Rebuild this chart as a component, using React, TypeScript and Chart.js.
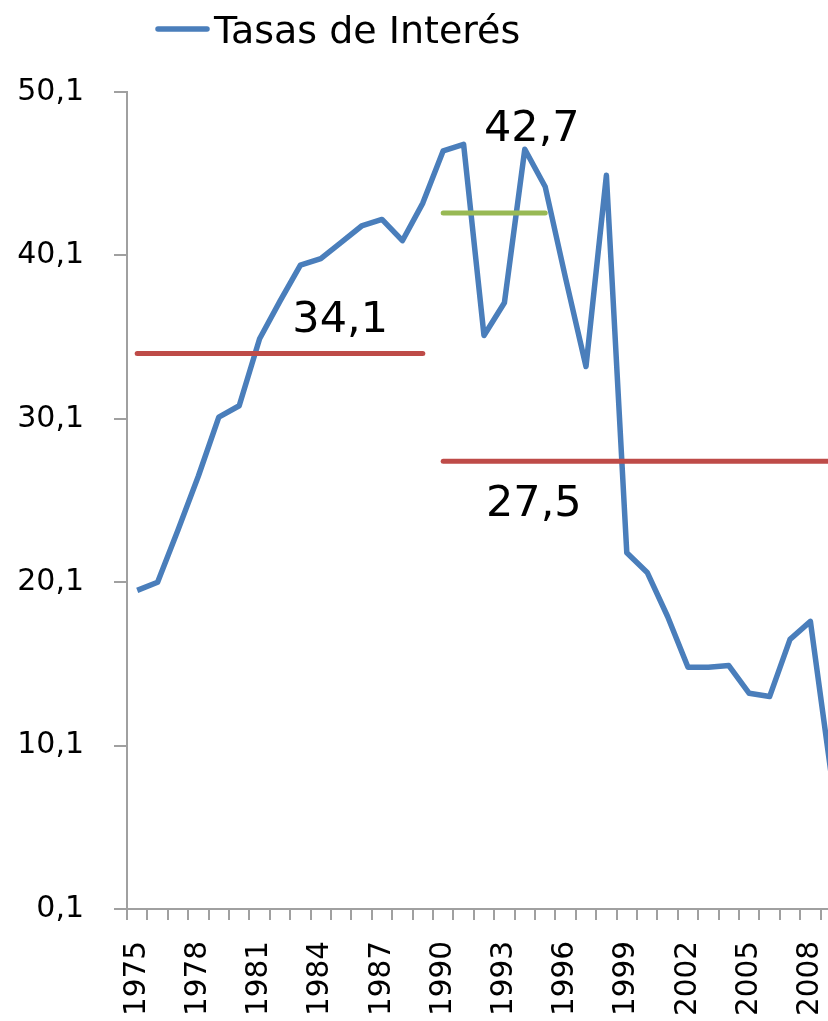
import { useEffect, useRef } from 'react';
import { Chart, registerables } from 'chart.js';

Chart.register(...registerables);

// Years on the category axis
const years = [
  '1975', '1976', '1977', '1978', '1979', '1980', '1981', '1982', '1983', '1984',
  '1985', '1986', '1987', '1988', '1989', '1990', '1991', '1992', '1993', '1994',
  '1995', '1996', '1997', '1998', '1999', '2000', '2001', '2002', '2003', '2004',
  '2005', '2006', '2007', '2008', '2009',
];

// Annual interest rate (%)
const interestRates = [
  19.6, 20.1, 23.3, 26.6, 30.2, 30.9, 35.0, 37.3, 39.5, 39.9,
  40.9, 41.9, 42.3, 41.0, 43.3, 46.5, 46.9, 35.2, 37.2, 46.6,
  44.3, 38.7, 33.3, 45.0, 21.9, 20.7, 18.0, 14.9, 14.9, 15.0,
  13.3, 13.1, 16.6, 17.7, 8.5,
];

// Period averages
const periodStarts = ['1975', '1990', '1990'];
const periodEnds = ['1989', '1995', '2009'];
const periodMeans = [34.1, 42.7, 27.5];

// Value axis
const yMin = 0.1;
const yMax = 50.1;
const yStep = 10;

const seriesLabel = 'Tasas de Interés';

const BLUE = '#4A7EBB';
const RED = '#BE4B48';
const GREEN = '#98B954';
const AXIS_GREY = '#A0A0A0';
const FONT = 'DejaVu Sans';

const periodColors = [RED, GREEN, RED];

const fmt = (v: number) => v.toFixed(1).replace('.', ',');

const periodSeries = (i: number) =>
  years.map((y) => (y >= periodStarts[i] && y <= periodEnds[i] ? periodMeans[i] : null));

// Draws the single-entry legend at the top-left
const legendPlugin = {
  id: 'topLegend',
  afterDraw(chart: Chart) {
    const { ctx } = chart;
    ctx.save();
    ctx.strokeStyle = BLUE;
    ctx.lineWidth = 5.5;
    ctx.lineCap = 'round';
    ctx.beginPath();
    ctx.moveTo(158, 29);
    ctx.lineTo(207, 29);
    ctx.stroke();
    ctx.fillStyle = '#000';
    ctx.font = `38px "${FONT}"`;
    ctx.textAlign = 'left';
    ctx.textBaseline = 'alphabetic';
    ctx.fillText(String(chart.data.datasets[0].label), 214, 43);
    ctx.restore();
  },
};

// Writes each period average next to its line
const meanLabelPlugin = {
  id: 'meanLabels',
  afterDatasetsDraw(chart: Chart) {
    const { ctx } = chart;
    const x = chart.scales.x;
    const y = chart.scales.y;
    const placement = [
      { at: '1985', dx: -1, dy: -21 },
      { at: '1994', dx: 7, dy: -72 },
      { at: '1994', dx: 9, dy: 55 },
    ];
    ctx.save();
    ctx.fillStyle = '#000';
    ctx.font = `43px "${FONT}"`;
    ctx.textAlign = 'center';
    ctx.textBaseline = 'alphabetic';
    periodMeans.forEach((m, i) => {
      const p = placement[i];
      const px = x.getPixelForValue(years.indexOf(p.at)) + p.dx;
      const py = y.getPixelForValue(m) + p.dy;
      ctx.fillText(fmt(m), px, py);
    });
    ctx.restore();
  },
};

export default function App() {
  const canvasRef = useRef<HTMLCanvasElement | null>(null);

  useEffect(() => {
    if (!canvasRef.current) return;
    const chart = new Chart(canvasRef.current, {
      type: 'line',
      data: {
        labels: years,
        datasets: [
          {
            label: seriesLabel,
            data: interestRates,
            borderColor: BLUE,
            borderWidth: 5.5,
            borderJoinStyle: 'round',
            pointRadius: 0,
            tension: 0,
            order: 1,
          },
          ...periodMeans.map((_, i) => ({
            label: `Promedio ${periodStarts[i]}-${periodEnds[i]}`,
            data: periodSeries(i),
            borderColor: periodColors[i],
            borderWidth: 5,
            borderCapStyle: 'round' as const,
            pointRadius: 0,
            spanGaps: false,
            order: 0,
          })),
        ],
      },
      options: {
        responsive: false,
        animation: false,
        devicePixelRatio: 1,
        layout: { padding: { top: 92, right: 19, bottom: 0, left: 0 } },
        plugins: {
          legend: { display: false },
          tooltip: { enabled: false },
        },
        scales: {
          x: {
            type: 'category',
            offset: true,
            afterFit(scale: any) {
              scale.height = 112;
              scale.paddingLeft = 0;
              scale.paddingRight = 0;
            },
            grid: {
              offset: true,
              drawOnChartArea: false,
              drawTicks: true,
              tickLength: 11,
              color: AXIS_GREY,
              lineWidth: 2,
            },
            border: { color: AXIS_GREY, width: 2 },
            ticks: {
              autoSkip: false,
              minRotation: 90,
              maxRotation: 90,
              padding: 21,
              color: '#000',
              font: { family: FONT, size: 29.5 },
              callback: (_v: any, i: number) => (i % 3 === 0 ? years[i] : ''),
            },
          },
          y: {
            type: 'linear',
            min: yMin,
            max: yMax,
            afterFit(scale: any) {
              scale.width = 127;
              scale.paddingTop = 0;
              scale.paddingBottom = 0;
            },
            grid: {
              drawOnChartArea: false,
              drawTicks: true,
              tickLength: 13,
              color: AXIS_GREY,
              lineWidth: 2,
            },
            border: { color: AXIS_GREY, width: 2 },
            ticks: {
              stepSize: yStep,
              padding: 30,
              color: '#000',
              font: { family: FONT, size: 30 },
              callback: (v: any) => fmt(Number(v)),
            },
          },
        },
      },
      plugins: [legendPlugin, meanLabelPlugin],
    });
    return () => chart.destroy();
  }, []);

  return (
    <div
      style={{
        position: 'absolute',
        left: 0,
        top: 0,
        width: 828,
        height: 1021,
        overflow: 'hidden',
        background: '#fff',
      }}
    >
      <canvas ref={canvasRef} width={860} height={1021} style={{ display: 'block' }} />
    </div>
  );
}
